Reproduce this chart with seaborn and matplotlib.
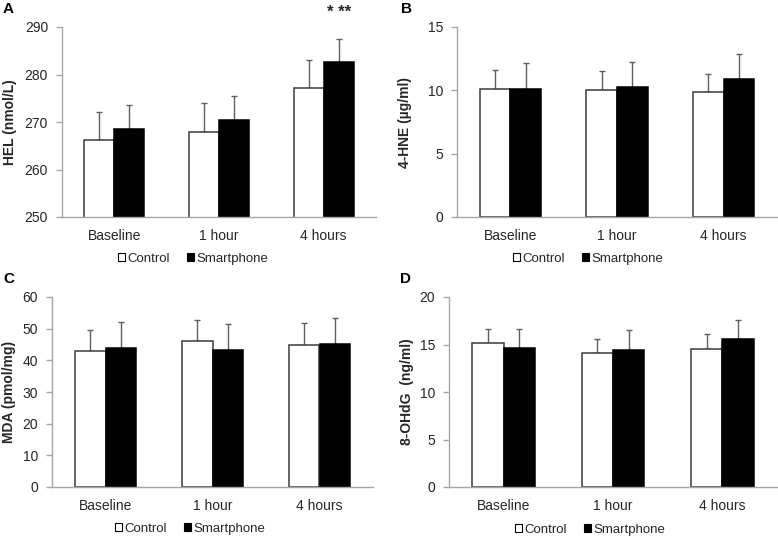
import matplotlib
matplotlib.use("Agg")
import matplotlib.pyplot as plt
import matplotlib.transforms as mtransforms
from matplotlib.patches import Patch
import pandas as pd
import seaborn as sns

# Datos
tiempos = ["Baseline", "1 hour", "4 hours"]
grupos = ["Control", "Smartphone"]

hel_control = [266.3, 268.0, 277.2]
hel_control_sd = [5.9, 5.9, 5.9]
hel_smart = [268.5, 270.5, 282.6]
hel_smart_sd = [5.0, 5.0, 4.9]

hne_control = [10.13, 10.05, 9.87]
hne_control_sd = [1.45, 1.45, 1.42]
hne_smart = [10.1, 10.24, 10.9]
hne_smart_sd = [2.06, 2.02, 2.0]

mda_control = [42.9, 46.1, 44.7]
mda_control_sd = [6.8, 6.7, 7.0]
mda_smart = [44.0, 43.3, 45.05]
mda_smart_sd = [8.1, 8.2, 8.25]

ohdg_control = [15.18, 14.15, 14.54]
ohdg_control_sd = [1.4, 1.48, 1.55]
ohdg_smart = [14.65, 14.44, 15.56]
ohdg_smart_sd = [1.93, 2.04, 2.04]

sns.set_style("white")
plt.rcParams["font.family"] = ["Liberation Sans", "DejaVu Sans"]

GRIS = "#a6a6a6"
TEXTO = "#262626"

fig = plt.figure(figsize=(7.78, 5.44), dpi=100)
W, H = 778, 544


def eje(izq, arriba, der, abajo):
    return fig.add_axes([izq / W, 1 - abajo / H, (der - izq) / W, (abajo - arriba) / H])


paneles = [
    dict(ax=eje(62, 27, 376, 217), letra="A", lx=3, ly=2, ylab="HEL (nmol/L)", ylabx=17,
         c=hel_control, csd=hel_control_sd, s=hel_smart, ssd=hel_smart_sd,
         ylim=(250, 290), ticks=[250, 260, 270, 280, 290], legx=193, legy=259),
    dict(ax=eje(457, 27, 777, 217), letra="B", lx=401, ly=2, ylab="4-HNE (µg/ml)", ylabx=412,
         c=hne_control, csd=hne_control_sd, s=hne_smart, ssd=hne_smart_sd,
         ylim=(0, 15), ticks=[0, 5, 10, 15], legx=588, legy=259),
    dict(ax=eje(52, 297, 373, 487), letra="C", lx=3, ly=272, ylab="MDA (pmol/mg)", ylabx=16,
         c=mda_control, csd=mda_control_sd, s=mda_smart, ssd=mda_smart_sd,
         ylim=(0, 60), ticks=[0, 10, 20, 30, 40, 50, 60], legx=190, legy=529),
    dict(ax=eje(449, 297, 777, 487), letra="D", lx=400, ly=272, ylab="8-OHdG  (ng/ml)", ylabx=414,
         c=ohdg_control, csd=ohdg_control_sd, s=ohdg_smart, ssd=ohdg_smart_sd,
         ylim=(0, 20), ticks=[0, 5, 10, 15, 20], legx=590, legy=530),
]

for p in paneles:
    ax = p["ax"]
    df = pd.DataFrame({
        "tiempo": tiempos * 2,
        "grupo": [grupos[0]] * 3 + [grupos[1]] * 3,
        "valor": p["c"] + p["s"],
    })
    sns.barplot(data=df, x="tiempo", y="valor", hue="grupo", order=tiempos,
                hue_order=grupos, palette=["white", "black"], width=0.575,
                errorbar=None, legend=False, ax=ax, zorder=2)

    # bordes y barras de error (solo hacia arriba)
    for cont, sd, borde in zip(ax.containers, [p["csd"], p["ssd"]], ["#3a3a3a", "black"]):
        xs, ys = [], []
        for barra in cont:
            barra.set_edgecolor(borde)
            barra.set_linewidth(1.1)
            xs.append(barra.get_x() + barra.get_width() / 2)
            ys.append(barra.get_height())
        ax.errorbar(xs, ys, yerr=[[0] * len(sd), sd], fmt="none", ecolor="#5f5f5f",
                    elinewidth=1.0, capsize=2, capthick=1.0, zorder=1)

    ax.set_ylim(*p["ylim"])
    ax.set_yticks(p["ticks"])
    ax.set_xlim(-0.5, 2.5)
    ax.set_xticks([-0.5, 0.5, 1.5, 2.5], minor=True)
    ax.tick_params(axis="x", which="major", length=0, pad=9, labelsize=10, labelcolor=TEXTO)
    ax.tick_params(axis="x", which="minor", length=4, color=GRIS, width=1, direction="out")
    ax.tick_params(axis="y", length=4, color=GRIS, width=1, direction="out",
                   labelsize=10, labelcolor=TEXTO, pad=6, left=True)
    for lado in ["top", "right"]:
        ax.spines[lado].set_visible(False)
    for lado in ["left", "bottom"]:
        ax.spines[lado].set_color(GRIS)
        ax.spines[lado].set_linewidth(1)
    ax.set_xlabel("")
    ax.set_ylabel(p["ylab"], fontsize=10, fontweight="bold", color=TEXTO)
    ax.yaxis.set_label_coords(p["ylabx"] / W, 0.5, transform=mtransforms.blended_transform_factory(fig.transFigure, ax.transAxes))

    fig.text(p["lx"] / W, 1 - p["ly"] / H, p["letra"], fontsize=11, fontweight="bold",
             va="top", ha="left", color="black")

    handles = [Patch(facecolor="white", edgecolor="black", linewidth=0.8),
               Patch(facecolor="black", edgecolor="black", linewidth=0.8)]
    fig.legend(handles, grupos, loc="center", bbox_to_anchor=(p["legx"] / W, 1 - p["legy"] / H),
               ncol=2, frameon=False, fontsize=9.5, handlelength=0.55, handleheight=0.55,
               handletextpad=0.15, columnspacing=1.3, labelcolor=TEXTO)

# asteriscos en el panel A sobre 4 hours
axA = paneles[0]["ax"]
barra4 = axA.containers[1][2]
axA.text(barra4.get_x() + barra4.get_width() / 2, 1.075, "* **",
         transform=mtransforms.blended_transform_factory(axA.transData, axA.transAxes),
         ha="center", va="center", fontsize=12, fontweight="bold", color=TEXTO, clip_on=False)

fig.savefig("out.png", dpi=100)
